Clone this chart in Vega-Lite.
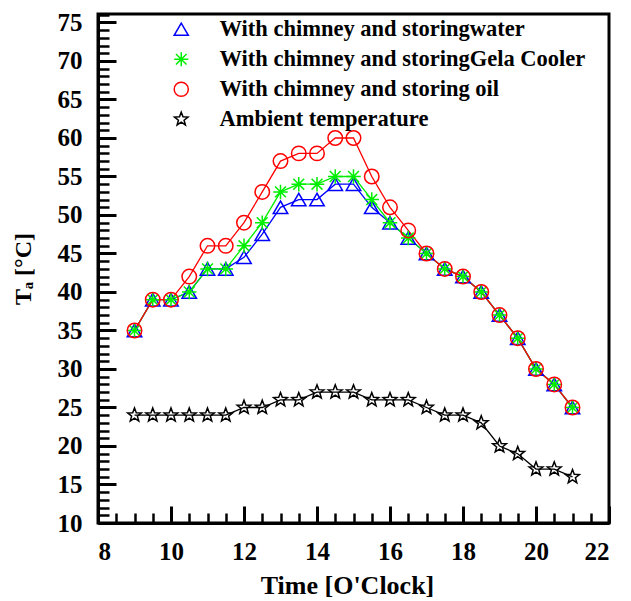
{
  "$schema": "https://vega.github.io/schema/vega-lite/v6.json",
  "width": 511,
  "height": 509,
  "autosize": {"type": "none"},
  "padding": {"left": 98, "top": 14, "right": 22, "bottom": 78},
  "background": "white",
  "config": {
    "view": {"stroke": "black", "strokeWidth": 3},
    "font": "Liberation Serif",
    "axis": {"grid": false, "domainColor": "black", "tickColor": "black", "labelColor": "black", "titleColor": "black", "labelFont": "Liberation Serif", "titleFont": "Liberation Serif", "labelFontWeight": "bold", "titleFontWeight": "bold"},
    "legend": {"padding": 0, "labelFont": "Liberation Serif", "labelFontWeight": "bold", "labelFontSize": 22.5, "labelColor": "black", "labelLimit": 600, "symbolSize": 200, "symbolStrokeWidth": 1.5, "labelOffset": 27, "rowPadding": 7}
  },
  "data": {"values": [
    {"t": 9, "v": 35, "series": "With chimney and storingwater"},
    {"t": 9.5, "v": 39, "series": "With chimney and storingwater"},
    {"t": 10, "v": 39, "series": "With chimney and storingwater"},
    {"t": 10.5, "v": 40, "series": "With chimney and storingwater"},
    {"t": 11, "v": 43, "series": "With chimney and storingwater"},
    {"t": 11.5, "v": 43, "series": "With chimney and storingwater"},
    {"t": 12, "v": 44.5, "series": "With chimney and storingwater"},
    {"t": 12.5, "v": 47.5, "series": "With chimney and storingwater"},
    {"t": 13, "v": 51, "series": "With chimney and storingwater"},
    {"t": 13.5, "v": 52, "series": "With chimney and storingwater"},
    {"t": 14, "v": 52, "series": "With chimney and storingwater"},
    {"t": 14.5, "v": 54, "series": "With chimney and storingwater"},
    {"t": 15, "v": 54, "series": "With chimney and storingwater"},
    {"t": 15.5, "v": 51, "series": "With chimney and storingwater"},
    {"t": 16, "v": 49, "series": "With chimney and storingwater"},
    {"t": 16.5, "v": 47, "series": "With chimney and storingwater"},
    {"t": 17, "v": 45, "series": "With chimney and storingwater"},
    {"t": 17.5, "v": 43, "series": "With chimney and storingwater"},
    {"t": 18, "v": 42, "series": "With chimney and storingwater"},
    {"t": 18.5, "v": 40, "series": "With chimney and storingwater"},
    {"t": 19, "v": 37, "series": "With chimney and storingwater"},
    {"t": 19.5, "v": 34, "series": "With chimney and storingwater"},
    {"t": 20, "v": 30, "series": "With chimney and storingwater"},
    {"t": 20.5, "v": 28, "series": "With chimney and storingwater"},
    {"t": 21, "v": 25, "series": "With chimney and storingwater"},
    {"t": 9, "v": 35, "series": "With chimney and storingGela Cooler"},
    {"t": 9.5, "v": 39, "series": "With chimney and storingGela Cooler"},
    {"t": 10, "v": 39, "series": "With chimney and storingGela Cooler"},
    {"t": 10.5, "v": 40, "series": "With chimney and storingGela Cooler"},
    {"t": 11, "v": 43, "series": "With chimney and storingGela Cooler"},
    {"t": 11.5, "v": 43, "series": "With chimney and storingGela Cooler"},
    {"t": 12, "v": 46, "series": "With chimney and storingGela Cooler"},
    {"t": 12.5, "v": 49, "series": "With chimney and storingGela Cooler"},
    {"t": 13, "v": 53, "series": "With chimney and storingGela Cooler"},
    {"t": 13.5, "v": 54, "series": "With chimney and storingGela Cooler"},
    {"t": 14, "v": 54, "series": "With chimney and storingGela Cooler"},
    {"t": 14.5, "v": 55, "series": "With chimney and storingGela Cooler"},
    {"t": 15, "v": 55, "series": "With chimney and storingGela Cooler"},
    {"t": 15.5, "v": 52, "series": "With chimney and storingGela Cooler"},
    {"t": 16, "v": 49, "series": "With chimney and storingGela Cooler"},
    {"t": 16.5, "v": 47, "series": "With chimney and storingGela Cooler"},
    {"t": 17, "v": 45, "series": "With chimney and storingGela Cooler"},
    {"t": 17.5, "v": 43, "series": "With chimney and storingGela Cooler"},
    {"t": 18, "v": 42, "series": "With chimney and storingGela Cooler"},
    {"t": 18.5, "v": 40, "series": "With chimney and storingGela Cooler"},
    {"t": 19, "v": 37, "series": "With chimney and storingGela Cooler"},
    {"t": 19.5, "v": 34, "series": "With chimney and storingGela Cooler"},
    {"t": 20, "v": 30, "series": "With chimney and storingGela Cooler"},
    {"t": 20.5, "v": 28, "series": "With chimney and storingGela Cooler"},
    {"t": 21, "v": 25, "series": "With chimney and storingGela Cooler"},
    {"t": 9, "v": 35, "series": "With chimney and storing oil"},
    {"t": 9.5, "v": 39, "series": "With chimney and storing oil"},
    {"t": 10, "v": 39, "series": "With chimney and storing oil"},
    {"t": 10.5, "v": 42, "series": "With chimney and storing oil"},
    {"t": 11, "v": 46, "series": "With chimney and storing oil"},
    {"t": 11.5, "v": 46, "series": "With chimney and storing oil"},
    {"t": 12, "v": 49, "series": "With chimney and storing oil"},
    {"t": 12.5, "v": 53, "series": "With chimney and storing oil"},
    {"t": 13, "v": 57, "series": "With chimney and storing oil"},
    {"t": 13.5, "v": 58, "series": "With chimney and storing oil"},
    {"t": 14, "v": 58, "series": "With chimney and storing oil"},
    {"t": 14.5, "v": 60, "series": "With chimney and storing oil"},
    {"t": 15, "v": 60, "series": "With chimney and storing oil"},
    {"t": 15.5, "v": 55, "series": "With chimney and storing oil"},
    {"t": 16, "v": 51, "series": "With chimney and storing oil"},
    {"t": 16.5, "v": 48, "series": "With chimney and storing oil"},
    {"t": 17, "v": 45, "series": "With chimney and storing oil"},
    {"t": 17.5, "v": 43, "series": "With chimney and storing oil"},
    {"t": 18, "v": 42, "series": "With chimney and storing oil"},
    {"t": 18.5, "v": 40, "series": "With chimney and storing oil"},
    {"t": 19, "v": 37, "series": "With chimney and storing oil"},
    {"t": 19.5, "v": 34, "series": "With chimney and storing oil"},
    {"t": 20, "v": 30, "series": "With chimney and storing oil"},
    {"t": 20.5, "v": 28, "series": "With chimney and storing oil"},
    {"t": 21, "v": 25, "series": "With chimney and storing oil"},
    {"t": 9, "v": 24, "series": "Ambient temperature"},
    {"t": 9.5, "v": 24, "series": "Ambient temperature"},
    {"t": 10, "v": 24, "series": "Ambient temperature"},
    {"t": 10.5, "v": 24, "series": "Ambient temperature"},
    {"t": 11, "v": 24, "series": "Ambient temperature"},
    {"t": 11.5, "v": 24, "series": "Ambient temperature"},
    {"t": 12, "v": 25, "series": "Ambient temperature"},
    {"t": 12.5, "v": 25, "series": "Ambient temperature"},
    {"t": 13, "v": 26, "series": "Ambient temperature"},
    {"t": 13.5, "v": 26, "series": "Ambient temperature"},
    {"t": 14, "v": 27, "series": "Ambient temperature"},
    {"t": 14.5, "v": 27, "series": "Ambient temperature"},
    {"t": 15, "v": 27, "series": "Ambient temperature"},
    {"t": 15.5, "v": 26, "series": "Ambient temperature"},
    {"t": 16, "v": 26, "series": "Ambient temperature"},
    {"t": 16.5, "v": 26, "series": "Ambient temperature"},
    {"t": 17, "v": 25, "series": "Ambient temperature"},
    {"t": 17.5, "v": 24, "series": "Ambient temperature"},
    {"t": 18, "v": 24, "series": "Ambient temperature"},
    {"t": 18.5, "v": 23, "series": "Ambient temperature"},
    {"t": 19, "v": 20, "series": "Ambient temperature"},
    {"t": 19.5, "v": 19, "series": "Ambient temperature"},
    {"t": 20, "v": 17, "series": "Ambient temperature"},
    {"t": 20.5, "v": 17, "series": "Ambient temperature"},
    {"t": 21, "v": 16, "series": "Ambient temperature"}
  ]},
  "layer": [
    {
      "mark": {"type": "line", "strokeWidth": 1.3},
      "encoding": {
        "x": {"field": "t", "type": "quantitative", "scale": {"domain": [8, 22], "nice": false, "zero": false},
          "axis": {"orient": "bottom", "values": [8, 8.5, 9, 9.5, 10, 10.5, 11, 11.5, 12, 12.5, 13, 13.5, 14, 14.5, 15, 15.5, 16, 16.5, 17, 17.5, 18, 18.5, 19, 19.5, 20, 20.5, 21, 21.5, 22], "tickSize": -10, "tickWidth": 2.5, "labels": false, "domain": false, "title": null}},
        "y": {"field": "v", "type": "quantitative", "scale": {"domain": [10, 76.1], "nice": false, "zero": false},
          "axis": {"orient": "left", "values": [10, 11, 12, 13, 14, 15, 16, 17, 18, 19, 20, 21, 22, 23, 24, 25, 26, 27, 28, 29, 30, 31, 32, 33, 34, 35, 36, 37, 38, 39, 40, 41, 42, 43, 44, 45, 46, 47, 48, 49, 50, 51, 52, 53, 54, 55, 56, 57, 58, 59, 60, 61, 62, 63, 64, 65, 66, 67, 68, 69, 70, 71, 72, 73, 74, 75, 76], "tickSize": -11, "tickWidth": 2.5, "labels": false, "domain": false, "title": null}},
        "color": {"field": "series", "type": "nominal",
          "scale": {"domain": ["With chimney and storingwater", "With chimney and storingGela Cooler", "With chimney and storing oil", "Ambient temperature"], "range": ["#0000ff", "#00ee00", "#ff0000", "#000000"]},
          "legend": {"title": null, "orient": "none", "legendX": 72, "legendY": 4}}
      }
    },
    {
      "mark": {"type": "point", "filled": false, "strokeWidth": 1.5, "opacity": 1, "size": 210},
      "encoding": {
        "x": {"field": "t", "type": "quantitative",
          "axis": {"orient": "bottom", "values": [8, 10, 12, 14, 16, 18, 20, 22], "tickSize": -17, "tickWidth": 3, "domainWidth": 3, "labelFontSize": 25, "labelPadding": 33, "title": "Time [O'Clock]", "titleFontSize": 26, "titlePadding": 8, "titleX": 249}},
        "y": {"field": "v", "type": "quantitative",
          "axis": {"orient": "left", "values": [10, 15, 20, 25, 30, 35, 40, 45, 50, 55, 60, 65, 70, 75], "tickSize": -18, "tickWidth": 3, "domainWidth": 3, "labelFontSize": 25, "labelPadding": 34, "title": "Tₐ [°C]", "titleFontSize": 24, "titlePadding": 22}},
        "color": {"field": "series", "type": "nominal",
          "scale": {"domain": ["With chimney and storingwater", "With chimney and storingGela Cooler", "With chimney and storing oil", "Ambient temperature"], "range": ["#0000ff", "#00ee00", "#ff0000", "#000000"]},
          "legend": {"title": null, "orient": "none", "legendX": 72, "legendY": 4}},
        "shape": {"field": "series", "type": "nominal",
          "scale": {"domain": ["With chimney and storingwater", "With chimney and storingGela Cooler", "With chimney and storing oil", "Ambient temperature"], "range": ["triangle-up", "M-1,0L1,0M0,-1L0,1M-0.75,-0.75L0.75,0.75M-0.75,0.75L0.75,-0.75", "circle", "M0,-1L0.247,-0.34L0.951,-0.309L0.399,0.13L0.588,0.809L0,0.42L-0.588,0.809L-0.399,0.13L-0.951,-0.309L-0.247,-0.34Z"]},
          "legend": {"title": null, "orient": "none", "legendX": 72, "legendY": 4}}
      }
    }
  ],
  "resolve": {"axis": {"x": "independent", "y": "independent"}}
}
